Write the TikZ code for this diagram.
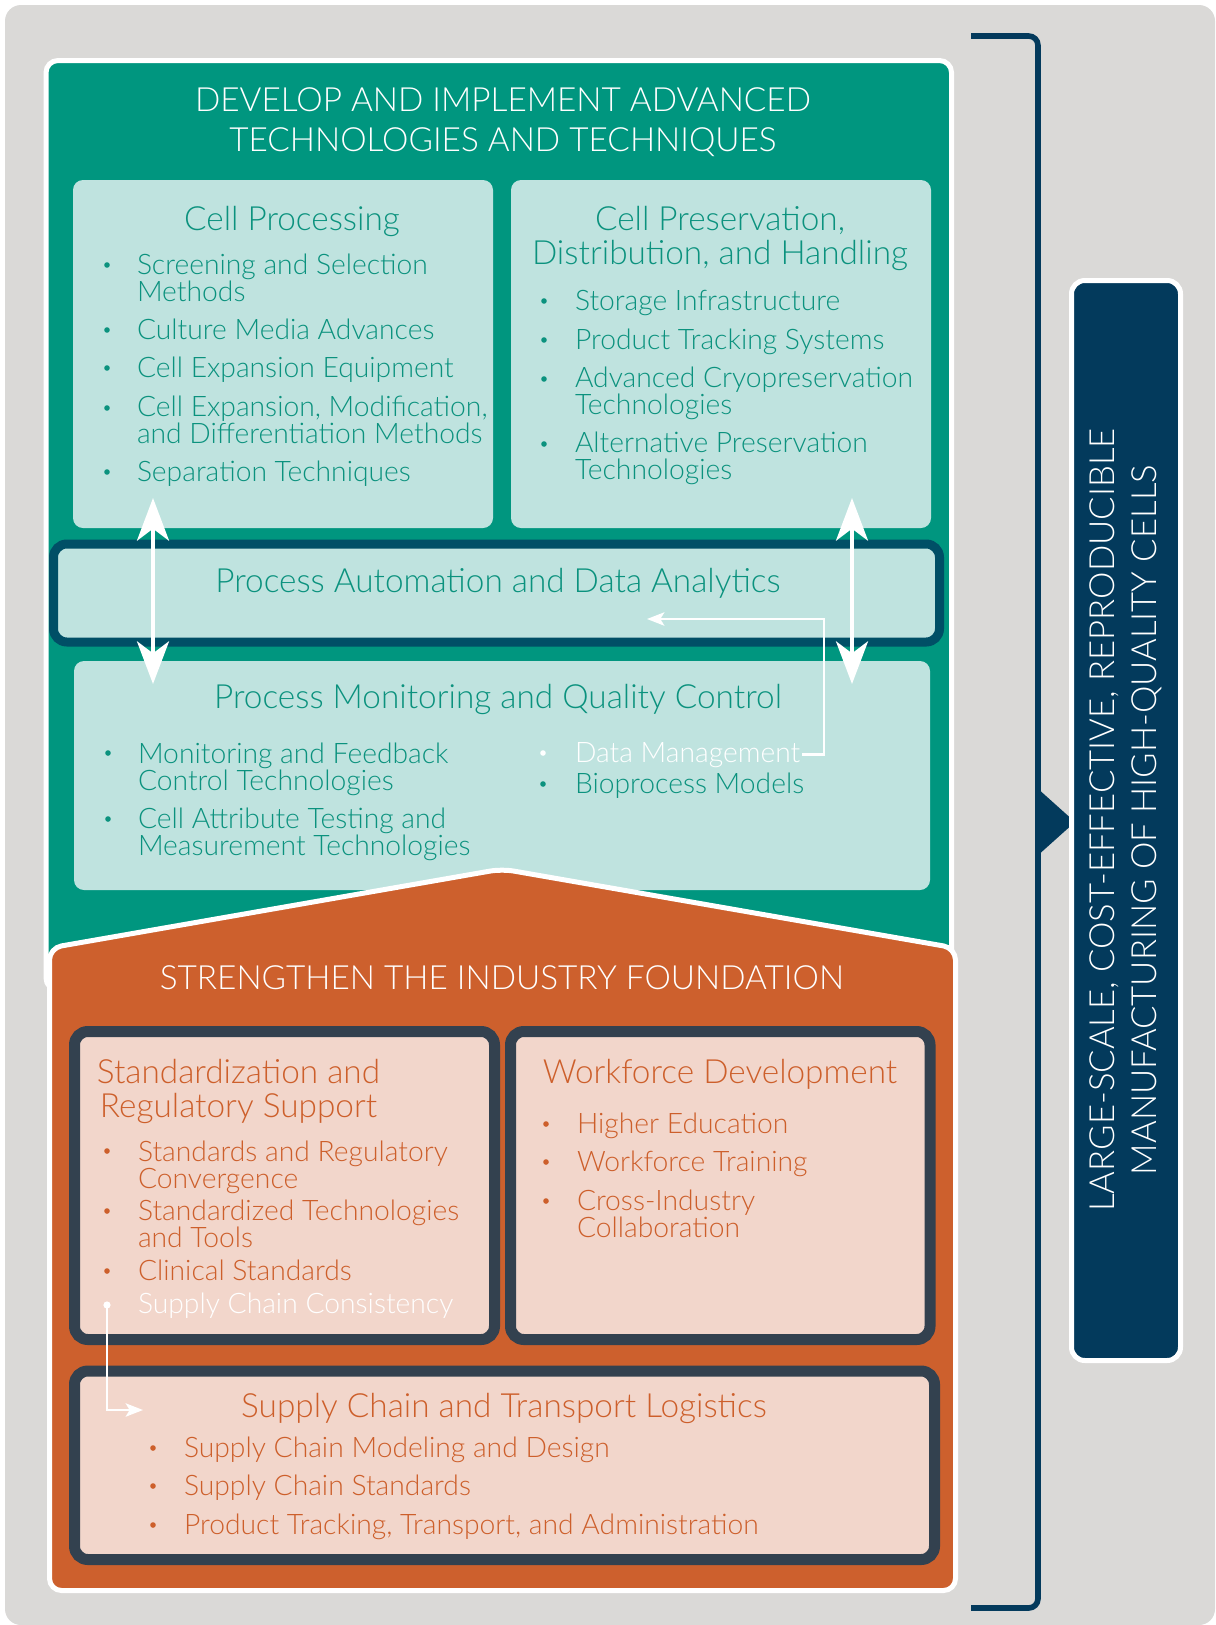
\documentclass[tikz,border=0pt]{standalone}
\usepackage{fontspec}
\IfFontExistsTF{Lato Light}{\setmainfont{Lato Light}}{\setmainfont{Lato}}
\usetikzlibrary{arrows.meta}
\definecolor{cgray}{HTML}{DAD9D7}
\definecolor{cteal}{HTML}{00967F}
\definecolor{clteal}{HTML}{BFE3DF}
\definecolor{ctxt}{HTML}{0B927E}
\definecolor{cauto}{HTML}{004F66}
\definecolor{corange}{HTML}{CD602D}
\definecolor{cpink}{HTML}{F2D6CB}
\definecolor{cotxt}{HTML}{CD5F2B}
\definecolor{cdark}{HTML}{33414F}
\definecolor{cblue}{HTML}{033A5C}
\newcommand\fitm{\fontsize{21.2}{20.25}\selectfont}
\newcommand\fttl{\fontsize{25}{25.5}\selectfont}
\newcommand\fcaps{\fontsize{25}{30}\selectfont}
\newcommand\fvert{\fontsize{26}{31.5}\selectfont}
\newcommand\bul[3]{\fill[#3] (#1,#2) circle[radius=2.1pt];}
\begin{document}
\begin{tikzpicture}[x=0.75pt,y=-0.75pt,
 every node/.style={inner sep=0pt, outer sep=0pt},
 itm/.style={anchor=base west, align=left, font=\fitm},
 ttl/.style={anchor=base, align=center, font=\fttl},
 captitle/.style={anchor=base, align=center, font=\fcaps, text=white},
 bigarr/.style={draw=white, line width=3pt, {Stealth[length=32pt,width=24pt,inset=9pt]}-{Stealth[length=32pt,width=24pt,inset=9pt]}},
 conn/.style={draw=white, line width=1.8pt, -{Stealth[length=13pt,width=10pt,inset=3pt]}},
 lbox/.style={fill=clteal, rounded corners=7.5pt},
 pbox/.style={fill=cpink, draw=cdark, line width=8.25pt, rounded corners=10pt},
]
\useasboundingbox (0,0) rectangle (1215,1625);
% background
\fill[cgray, rounded corners=12pt] (5,5) rectangle (1215,1625);
% bracket
\draw[cblue, line width=4.2pt, rounded corners=7pt] (971,36) -- (1038,36) -- (1038,1608) -- (971,1608);
\fill[cblue] (1036,787) -- (1075,822) -- (1036,857) -- cycle;
% blue box
\filldraw[fill=cblue, draw=white, line width=3.75pt, rounded corners=10pt] (1071.5,280.5) rectangle (1180.5,1360.5);
\node[rotate=90, align=center, font=\fvert, text=white] (goal) at (1126,820) {LARGE-SCALE, COST-EFFECTIVE, REPRODUCIBLE\\MANUFACTURING OF HIGH-QUALITY CELLS};

% teal box
\filldraw[fill=cteal, draw=white, line width=3.75pt, rounded corners=9pt] (46,60.5) rectangle (951.5,990);
\node[captitle] (t1) at (503,151) {DEVELOP AND IMPLEMENT ADVANCED\\TECHNOLOGIES AND TECHNIQUES};

% Cell processing
\path[lbox] (73,180) rectangle (493,528);
\node[ttl, text=ctxt] (cpt) at (292,230) {Cell Processing};
\node[itm, text=ctxt] (cp1) at (137,301) {Screening and Selection\\Methods};
\node[itm, text=ctxt] (cp2) at (137,339) {Culture Media Advances};
\node[itm, text=ctxt] (cp3) at (137,377) {Cell Expansion Equipment};
\node[itm, text=ctxt] (cp4) at (137,443) {Cell Expansion, Modification,\\and Differentiation Methods};
\node[itm, text=ctxt] (cp5) at (137,481) {Separation Techniques};
\bul{107}{265}{ctxt}\bul{107}{330}{ctxt}\bul{107}{368}{ctxt}\bul{107}{408}{ctxt}\bul{107}{472}{ctxt}

% Cell preservation
\path[lbox] (511,180) rectangle (931,528);
\node[ttl, text=ctxt] (cdt) at (720,264) {Cell Preservation,\\Distribution, and Handling};
\node[itm, text=ctxt] (cd1) at (575,310) {Storage Infrastructure};
\node[itm, text=ctxt] (cd2) at (575,349) {Product Tracking Systems};
\node[itm, text=ctxt] (cd3) at (575,414) {Advanced Cryopreservation\\Technologies};
\node[itm, text=ctxt] (cd4) at (575,479) {Alternative Preservation\\Technologies};
\bul{544}{301}{ctxt}\bul{544}{340}{ctxt}\bul{544}{379}{ctxt}\bul{544}{444}{ctxt}

% Process monitoring
\path[lbox] (74,661) rectangle (930,890);
\node[ttl, text=ctxt] (pmt) at (498,708) {Process Monitoring and Quality Control};
\node[itm, text=ctxt] (pm1) at (138,790) {Monitoring and Feedback\\Control Technologies};
\node[itm, text=ctxt] (pm2) at (138,855) {Cell Attribute Testing and\\Measurement Technologies};
\node[itm, text=white] (dm) at (575,762) {Data Management};
\node[itm, text=ctxt] (pm4) at (575,793) {Bioprocess Models};
\bul{108}{753}{ctxt}\bul{108}{819}{ctxt}\bul{543}{753}{white}\bul{543}{784}{ctxt}

% Process automation
\filldraw[fill=clteal, draw=cauto, line width=6.75pt, rounded corners=10pt] (53.5,544) rectangle (939.5,642);
\node[ttl, text=ctxt] (pa) at (498,592) {Process Automation and Data Analytics};

% arrows
\coordinate (la1) at (153,498); \coordinate (la2) at (153,684);
\coordinate (ra1) at (852,498); \coordinate (ra2) at (852,684);
\draw[bigarr] (la1) -- (la2);
\draw[bigarr] (ra1) -- (ra2);
\coordinate (dmcorner) at (824,619); \coordinate (dmend) at (647,619);
\draw[conn] ([xshift=1.5pt]dm.east) -| (dmcorner) -- (dmend);

% orange foundation
\filldraw[fill=corange, draw=white, line width=3.75pt, rounded corners=9pt] (49.5,1590.5) -- (49.5,948) -- (502,869) -- (955.5,948) -- (955.5,1590.5) -- cycle;
\node[captitle] (t2) at (502,989) {STRENGTHEN THE INDUSTRY FOUNDATION};

% Standardization
\path[pbox] (74.5,1031.5) rectangle (494.5,1339.5);
\node[ttl, text=cotxt] (sdt) at (238.5,1117) {Standardization and\\Regulatory Support};
\node[itm, text=cotxt] (sd1) at (138,1188) {Standards and Regulatory\\Convergence};
\node[itm, text=cotxt] (sd2) at (138,1247) {Standardized Technologies\\and Tools};
\node[itm, text=cotxt] (sd3) at (138,1280) {Clinical Standards};
\node[itm, text=white] (sd4) at (138,1313) {Supply Chain Consistency};
\bul{107}{1151}{cotxt}\bul{107}{1211}{cotxt}\bul{107}{1271}{cotxt}

% Workforce
\path[pbox] (510.5,1031.5) rectangle (930,1339.5);
\node[ttl, text=cotxt] (wft) at (720,1083) {Workforce Development};
\node[itm, text=cotxt] (wf1) at (577,1133) {Higher Education};
\node[itm, text=cotxt] (wf2) at (577,1171) {Workforce Training};
\node[itm, text=cotxt] (wf3) at (577,1237) {Cross-Industry\\Collaboration};
\bul{546}{1124}{cotxt}\bul{546}{1162}{cotxt}\bul{546}{1201}{cotxt}

% Supply chain
\path[pbox] (74.5,1371) rectangle (934.5,1559.5);
\node[ttl, text=cotxt] (sct) at (504,1417) {Supply Chain and Transport Logistics};
\node[itm, text=cotxt] (sc1) at (184,1457) {Supply Chain Modeling and Design};
\node[itm, text=cotxt] (sc2) at (184,1495) {Supply Chain Standards};
\node[itm, text=cotxt] (sc3) at (184,1534) {Product Tracking, Transport, and Administration};
\bul{153}{1448}{cotxt}\bul{153}{1486}{cotxt}\bul{153}{1525}{cotxt}

% supply chain consistency connector
\coordinate (scdot) at (107,1305); \coordinate (scend) at (143,1410);
\fill[white] (scdot) circle[radius=2.7pt];
\draw[conn] (scdot) |- (scend);
\end{tikzpicture}
\end{document}
